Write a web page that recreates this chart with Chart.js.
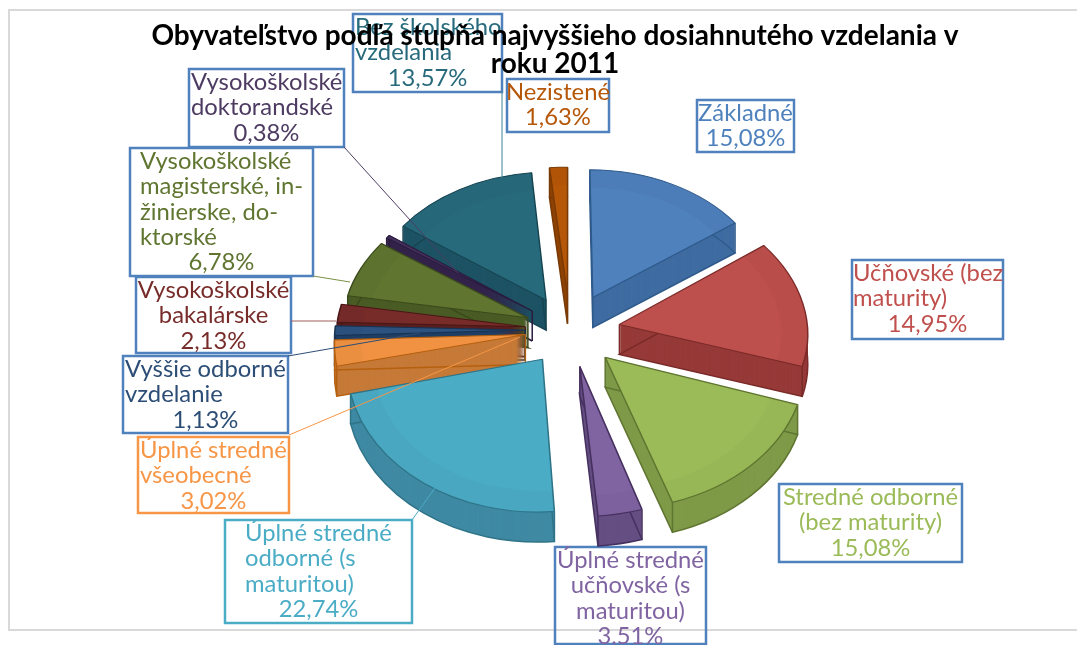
<!DOCTYPE html>
<html>
<head>
<meta charset="utf-8">
<title>Obyvateľstvo podľa stupňa vzdelania</title>
<style>
  html, body { margin: 0; padding: 0; background: #fff; }
  canvas { display: block; }
</style>
<script src="https://cdn.jsdelivr.net/npm/chart.js@4"></script>
</head>
<body>
<canvas id="plot" width="1077" height="645"></canvas>
<script>
const titleLines = ['Obyvateľstvo podľa stupňa najvyššieho dosiahnutého vzdelania v', 'roku 2011'];

const categories = [
  'Základné', 'Učňovské (bez maturity)', 'Stredné odborné (bez maturity)',
  'Úplné stredné učňovské (s maturitou)', 'Úplné stredné odborné (s maturitou)',
  'Úplné stredné všeobecné', 'Vyššie odborné vzdelanie', 'Vysokoškolské bakalárske',
  'Vysokoškolské magisterské, inžinierske, doktorské', 'Vysokoškolské doktorandské',
  'Bez školského vzdelania', 'Nezistené'
];
const values = [15.08, 14.95, 15.08, 3.51, 22.74, 3.02, 1.13, 2.13, 6.78, 0.38, 13.57, 1.63];
const labelLines = [
  ['Základné'], ['Učňovské (bez', 'maturity)'], ['Stredné odborné', '(bez maturity)'],
  ['Úplné stredné', 'učňovské (s', 'maturitou)'], ['Úplné stredné', 'odborné (s', 'maturitou)'],
  ['Úplné stredné', 'všeobecné'], ['Vyššie odborné', 'vzdelanie'], ['Vysokoškolské', 'bakalárske'],
  ['Vysokoškolské', 'magisterské, in-', 'žinierske, do-', 'ktorské'], ['Vysokoškolské', 'doktorandské'],
  ['Bez školského', 'vzdelania'], ['Nezistené']
];

const topColors = ['#4F81BD', '#BD4F4C', '#9BBB59', '#8064A2', '#4BACC6', '#F09242', '#2C5280', '#772C2A', '#5F7530', '#46305F', '#276A7C', '#B65708'];
const wallColors = ['#3F6CA1', '#963A38', '#7F9A48', '#654F82', '#3F89A3', '#C67A38', '#1F3F66', '#5A1F1E', '#4A5C25', '#33234A', '#1D5364', '#8E4406'];
const edgeColors = ['#2F5A8C', '#7A2A28', '#5F7530', '#46305F', '#2F7488', '#B5600F', '#183353', '#4A1716', '#3B4A1C', '#2A1C3E', '#174451', '#7A3A05'];
const textColors = ['#4F81BD', '#C0504D', '#9BBB59', '#8064A2', '#4BACC6', '#F79646', '#2C4D75', '#772C2A', '#5F7530', '#4D3B62', '#276A7C', '#B65708'];

// label boxes, same order as categories: x, y, w, h, left = where left aligned lines start
const BLUE = '#4F81BD';
const labelBoxes = [
  { x: 697, y: 100, w: 97, h: 52, border: BLUE },
  { x: 852, y: 260, w: 151, h: 79, border: BLUE, left: 853 },
  { x: 779, y: 484, w: 183, h: 78, border: BLUE },
  { x: 555, y: 547, w: 151, h: 97, border: BLUE },
  { x: 225, y: 520, w: 187, h: 103, border: '#4BACC6', left: 245 },
  { x: 138, y: 437, w: 151, h: 76, border: '#F79646', left: 140 },
  { x: 123, y: 356, w: 165, h: 77, border: BLUE, left: 125 },
  { x: 136, y: 277, w: 155, h: 76, border: BLUE },
  { x: 130, y: 148, w: 183, h: 128, border: BLUE, left: 140 },
  { x: 189, y: 69, w: 155, h: 78, border: BLUE, left: 191 },
  { x: 353, y: 14, w: 149, h: 78, border: BLUE, left: 355 },
  { x: 507, y: 79, w: 102, h: 53, border: BLUE }
];

// leader lines from box to slice
const leaders = [
  { i: 10, from: [502, 92], to: [502, 178], color: '#3C8296' },
  { i: 9, from: [344, 147], to: [458, 273], color: '#4D3B62' },
  { i: 8, from: [313, 276], to: [350, 282], color: '#7C9148' },
  { i: 7, from: [291, 321], to: [336, 321], color: '#A0605E' },
  { i: 6, from: [288, 356], to: [420, 333], color: '#2C4D75' },
  { i: 5, from: [289, 435], to: [520, 337], color: '#F79646' },
  { i: 4, from: [412, 520], to: [435, 488], color: '#4BACC6' }
];

// fake 3d projection
const pieX = 570, pieY = 330;
const explode = 50, squash = 0.72, depth = 30, perspective = 0.075;
const labelFont = '23.8px Lato, "Noto Sans", sans-serif';

// each slice gets its own affine frame, a local stand-in for real perspective
function sliceFrame(arc) {
  const mid = (arc.startAngle + arc.endAngle) / 2;
  const c = Math.cos(mid), n = Math.sin(mid);
  const front = Math.max(0, n), left = Math.max(0, -c);
  const d = explode - 5 * left;
  const s = 1 + perspective * n;
  const tilt = squash + 0.08 * front * Math.abs(c);
  return {
    ex: pieX + c * d,
    ey: pieY + n * d * (tilt + 0.01),
    sx: s * (1 - 0.06 * left * front),
    sy: s * tilt,
    shear: perspective * c * Math.abs(c)
  };
}

function applyFrame(ctx, arc, f, dy) {
  ctx.translate(f.ex, f.ey + dy);
  ctx.transform(f.sx, 0, f.shear, f.sy, 0, 0);
  ctx.translate(-arc.x, -arc.y);
}

function slicePath(ctx, arc, r) {
  ctx.beginPath();
  ctx.moveTo(arc.x, arc.y);
  ctx.arc(arc.x, arc.y, r, arc.startAngle, arc.endAngle);
  ctx.closePath();
}

function drawSlice(ctx, arc, i) {
  const f = sliceFrame(arc);
  const r = arc.outerRadius;

  // walls
  for (let d = depth; d > 0; d--) {
    ctx.save();
    applyFrame(ctx, arc, f, d);
    slicePath(ctx, arc, r);
    ctx.fillStyle = wallColors[i];
    ctx.fill();
    ctx.restore();
  }
  ctx.save();
  applyFrame(ctx, arc, f, depth);
  slicePath(ctx, arc, r);
  ctx.restore();
  ctx.strokeStyle = edgeColors[i];
  ctx.lineWidth = 1.5;
  ctx.stroke();

  ctx.beginPath();
  [[0, 0], [r, arc.startAngle], [r, arc.endAngle]].forEach(([pr, a]) => {
    const px = f.ex + Math.cos(a) * pr * f.sx + Math.sin(a) * pr * f.shear;
    const py = f.ey + Math.sin(a) * pr * f.sy;
    ctx.moveTo(px, py);
    ctx.lineTo(px, py + depth);
  });
  ctx.stroke();

  // top face
  ctx.save();
  applyFrame(ctx, arc, f, 0);
  arc.draw(ctx);
  slicePath(ctx, arc, r - 1);
  ctx.clip();
  ctx.beginPath();
  ctx.arc(arc.x, arc.y, r, 0, Math.PI * 2);
  ctx.arc(arc.x, arc.y, r * 0.86, 0, Math.PI * 2, true);
  ctx.fillStyle = 'rgba(0,0,0,0.025)';
  ctx.fill();
  ctx.restore();
}

const pie3d = {
  id: 'pie3d',
  beforeDatasetDraw(chart, args) {
    const arcs = args.meta.data;
    const ctx = chart.ctx;
    const order = arcs.map((a, i) => i).sort((p, q) =>
      Math.sin((arcs[p].startAngle + arcs[p].endAngle) / 2) - Math.sin((arcs[q].startAngle + arcs[q].endAngle) / 2));
    order.forEach(i => drawSlice(ctx, arcs[i], i));
    return false;
  },
  afterDatasetsDraw(chart) {
    const ctx = chart.ctx;
    ctx.save();
    ctx.lineWidth = 1;
    leaders.forEach(l => {
      ctx.strokeStyle = l.color;
      ctx.beginPath();
      ctx.moveTo(l.from[0], l.from[1]);
      ctx.lineTo(l.to[0], l.to[1]);
      ctx.stroke();
    });
    ctx.restore();
  }
};

const labelsAndFrame = {
  id: 'labelsAndFrame',
  beforeDraw(chart) {
    const ctx = chart.ctx;
    ctx.save();
    // chart frame, open on the right
    ctx.strokeStyle = '#D9D9D9';
    ctx.lineWidth = 2;
    ctx.beginPath();
    ctx.moveTo(1077, 10);
    ctx.lineTo(9, 10);
    ctx.lineTo(9, 630);
    ctx.lineTo(1077, 630);
    ctx.stroke();

    ctx.font = labelFont;
    ctx.textBaseline = 'middle';
    labelBoxes.forEach((b, i) => {
      ctx.strokeStyle = b.border;
      ctx.lineWidth = 2.5;
      ctx.strokeRect(b.x, b.y, b.w, b.h);

      ctx.fillStyle = textColors[i];
      const cx = b.x + b.w / 2;
      const pct = values[i].toFixed(2).replace('.', ',') + '%';
      const lines = labelLines[i].concat(pct);
      lines.forEach((t, n) => {
        const y = b.y + 13.5 + n * 25.2;
        if (b.left && n < lines.length - 1) {
          ctx.textAlign = 'left';
          ctx.fillText(t, b.left, y);
        } else {
          ctx.textAlign = 'center';
          ctx.fillText(t, cx, y);
        }
      });
    });
    ctx.restore();
  }
};

new Chart(document.getElementById('plot').getContext('2d'), {
  type: 'pie',
  data: {
    labels: categories,
    datasets: [{
      data: values,
      backgroundColor: topColors,
      borderColor: edgeColors,
      borderWidth: 1.5,
      radius: 190
    }]
  },
  options: {
    responsive: false,
    animation: false,
    devicePixelRatio: 1,
    layout: { padding: { left: 33, top: 22 } },
    plugins: {
      legend: { display: false },
      tooltip: { enabled: false },
      title: {
        display: true,
        text: titleLines,
        color: '#000',
        font: { family: 'Lato, "Noto Sans", sans-serif', size: 28, weight: 'bold', lineHeight: 1 },
        padding: 0
      }
    }
  },
  plugins: [pie3d, labelsAndFrame]
});
</script>
</body>
</html>
